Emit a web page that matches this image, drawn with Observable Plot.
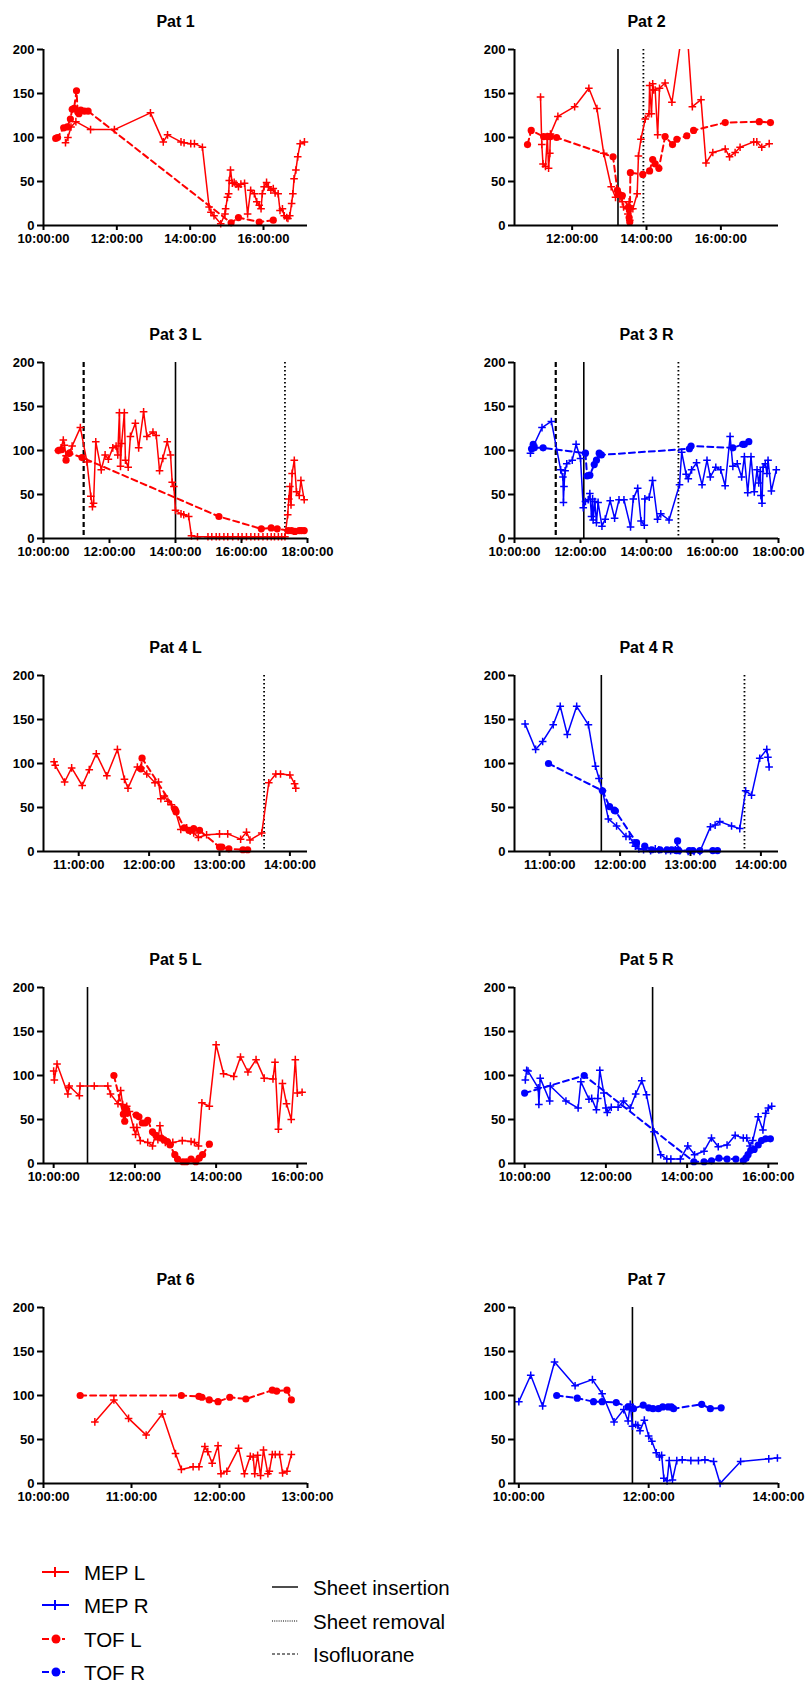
<!DOCTYPE html>
<html><head><meta charset="utf-8">
<script src="https://cdn.jsdelivr.net/npm/d3@7"></script>
<script src="https://cdn.jsdelivr.net/npm/@observablehq/plot@0.6"></script>
<style>
body{margin:0;background:#fff;}
#root{position:relative;width:806px;height:1681px;overflow:hidden;font-family:"Liberation Sans",Arial,sans-serif;}
#root > svg, #root > figure{position:absolute;margin:0;}
</style></head><body><div id="root"></div>
<script>
// ---------- DATA ----------
const titles = ["Pat 1","Pat 2","Pat 3 L","Pat 3 R","Pat 4 L","Pat 4 R","Pat 5 L","Pat 5 R","Pat 6","Pat 7"];
const sides = ["L","L","L","R","L","R","L","R","L","R"];
const xDomains = [["10:00","17:12"],["10:27","17:33"],["10:00","18:00"],["10:00","18:00"],["10:30","14:15"],["10:30","14:15"],["09:45","16:15"],["09:45","16:15"],["10:00","13:00"],["09:56","14:00"]];
const xTickLabels = [
  ["10:00","12:00","14:00","16:00"],["12:00","14:00","16:00"],
  ["10:00","12:00","14:00","16:00","18:00"],["10:00","12:00","14:00","16:00","18:00"],
  ["11:00","12:00","13:00","14:00"],["11:00","12:00","13:00","14:00"],
  ["10:00","12:00","14:00","16:00"],["10:00","12:00","14:00","16:00"],
  ["10:00","11:00","12:00","13:00"],["10:00","12:00","14:00"]];
const yTicks = [0,50,100,150,200];
const sheetInsertion = [null,"13:14","14:00","12:06",null,"11:44","10:50","13:09",null,"11:45"];
const sheetRemoval = [null,"13:55","17:19","14:58","13:38","13:46",null,null,null,null];
const isofluorane = [null,null,"11:13","11:15",null,null,null,null,null,null];

const p1Mep = [["10:36",94],["10:40",100],["10:45",112],["10:53",118],["11:17",109],["11:56",109],["12:55",128],["13:16",95],["13:23",103],["13:45",95],["13:50",94],["14:01",93],["14:07",93],["14:20",89],["14:31",21],["14:34",15],["14:39",11],["14:50",2],["14:57",13],["14:58",19],["15:01",32],["15:03",36],["15:04",51],["15:06",63],["15:09",48],["15:12",49],["15:15",47],["15:19",44],["15:23",47],["15:29",48],["15:34",13],["15:39",40],["15:45",36],["15:49",27],["15:53",23],["15:56",19],["15:58",36],["16:01",44],["16:05",49],["16:08",44],["16:12",40],["16:16",42],["16:19",37],["16:24",36],["16:27",17],["16:31",19],["16:34",11],["16:38",9],["16:40",8],["16:43",11],["16:46",25],["16:48",36],["16:50",53],["16:53",63],["16:56",78],["17:00",93],["17:07",95]];
const p1Tof = [["10:20",99],["10:23",100],["10:33",111],["10:39",112],["10:44",121],["10:47",132],["10:50",133],["10:54",153],["10:56",129],["10:58",127],["11:01",131],["11:07",130],["11:13",130],["15:07",3],["15:19",9],["15:53",4],["16:16",6]];

const p2Mep = [["11:09",146],["11:11",92],["11:13",70],["11:17",67],["11:20",101],["11:22",65],["11:24",82],["11:25",104],["11:37",124],["12:04",135],["12:27",156],["12:40",133],["12:51",82],["13:03",44],["13:10",32],["13:17",32],["13:21",27],["13:23",21],["13:28",19],["13:30",13],["13:32",27],["13:33",6],["13:35",19],["13:38",19],["13:45",36],["13:47",79],["13:51",98],["13:58",121],["14:04",127],["14:05",159],["14:08",127],["14:10",161],["14:11",154],["14:14",154],["14:18",103],["14:21",156],["14:30",162],["14:41",140],["15:03",247],["15:14",135],["15:28",143],["15:36",71],["15:47",83],["16:07",87],["16:14",78],["16:23",83],["16:31",89],["16:53",95],["16:58",95],["17:06",89],["17:18",93]];
const p2Tof = [["10:48",92],["10:54",108],["11:14",101],["11:20",101],["11:25",101],["11:35",100],["13:06",78],["13:13",40],["13:15",36],["13:21",34],["13:31",21],["13:32",9],["13:33",4],["13:34",60],["13:54",58],["14:05",62],["14:10",75],["14:14",70],["14:20",65],["14:30",101],["14:42",92],["14:49",98],["15:05",102],["15:16",108],["16:07",117],["17:02",118],["17:20",117]];

const p3LMep = [["10:27",100],["10:32",103],["10:36",112],["10:38",106],["10:41",94],["10:47",97],["10:52",105],["11:07",126],["11:19",87],["11:26",48],["11:29",36],["11:31",40],["11:35",110],["11:45",78],["11:52",95],["11:58",90],["12:06",103],["12:12",105],["12:15",95],["12:18",143],["12:20",82],["12:22",108],["12:27",143],["12:29",89],["12:34",81],["12:38",116],["12:47",131],["12:53",103],["13:02",144],["13:08",116],["13:19",121],["13:25",117],["13:31",77],["13:37",91],["13:45",110],["13:51",95],["13:54",64],["13:57",59],["14:00",32],["14:10",28],["14:15",27],["14:24",25],["14:29",3],["14:40",2],["14:59",2],["15:06",2],["15:14",2],["15:20",2],["15:28",2],["15:35",2],["15:44",2],["15:54",2],["16:01",2],["16:09",2],["16:17",2],["16:24",2],["16:31",2],["16:39",2],["16:47",2],["16:54",2],["17:00",2],["17:07",2],["17:13",2],["17:19",2],["17:24",27],["17:26",45],["17:28",59],["17:30",38],["17:32",74],["17:36",89],["17:40",53],["17:45",49],["17:48",66],["17:54",44]];
const p3LTof = [["10:27",100],["10:33",101],["10:41",89],["10:47",97],["11:10",92],["15:19",25],["16:36",11],["16:54",12],["17:05",11],["17:25",9],["17:31",9],["17:37",8],["17:45",9],["17:49",9],["17:54",9]];

const p3RMep = [["10:29",97],["10:32",102],["10:35",106],["10:50",126],["11:07",133],["11:24",78],["11:28",70],["11:29",41],["11:30",59],["11:32",77],["11:35",85],["11:45",89],["11:52",107],["12:00",91],["12:05",35],["12:09",42],["12:14",44],["12:17",51],["12:20",25],["12:22",45],["12:23",21],["12:26",42],["12:29",18],["12:32",41],["12:39",14],["12:45",22],["12:54",43],["13:02",23],["13:10",44],["13:19",44],["13:31",13],["13:36",45],["13:44",57],["13:50",20],["13:56",15],["13:57",45],["14:05",47],["14:11",66],["14:20",22],["14:26",28],["14:41",21],["15:00",61],["15:04",98],["15:12",73],["15:16",68],["15:22",78],["15:31",86],["15:41",61],["15:50",89],["15:56",70],["16:06",81],["16:15",78],["16:23",60],["16:32",116],["16:37",82],["16:45",85],["16:53",70],["16:58",93],["17:04",52],["17:10",93],["17:16",53],["17:21",78],["17:24",63],["17:27",76],["17:28",49],["17:30",40],["17:32",81],["17:36",85],["17:39",74],["17:41",89],["17:47",54],["17:56",78]];
const p3RTof = [["10:31",102],["10:34",107],["10:36",103],["10:52",103],["12:09",97],["12:12",71],["12:17",72],["12:25",84],["12:29",89],["12:34",97],["12:38",95],["15:18",102],["15:21",105],["16:37",103],["16:55",107],["16:58",107],["17:06",110]];

const p4LMep = [["10:39",102],["10:40",98],["10:48",79],["10:54",95],["11:03",75],["11:09",93],["11:15",111],["11:24",86],["11:33",116],["11:39",82],["11:42",72],["11:50",96],["11:53",95],["11:58",88],["12:05",78],["12:08",79],["12:10",60],["12:13",63],["12:16",57],["12:19",53],["12:22",48],["12:27",25],["12:32",27],["12:35",23],["12:38",21],["12:42",16],["12:49",19],["13:00",20],["13:07",20],["13:18",14],["13:23",22],["13:26",13],["13:36",21],["13:42",78],["13:48",88],["13:52",88],["14:00",87],["14:04",77],["14:05",72]];
const p4LTof = [["11:53",94],["11:54",106],["12:22",48],["12:23",45],["12:30",27],["12:34",24],["12:38",26],["12:43",24],["13:00",5],["13:02",5],["13:08",3],["13:20",2],["13:24",2]];

const p4RMep = [["10:39",145],["10:48",116],["10:54",125],["11:03",144],["11:09",165],["11:15",133],["11:23",165],["11:33",144],["11:39",97],["11:42",83],["11:45",69],["11:50",37],["11:57",29],["12:05",17],["12:08",17],["12:11",10],["12:13",6],["12:16",3],["12:20",2],["12:26",1],["12:30",3],["12:33",2],["12:39",1],["12:43",1],["12:47",2],["12:51",1],["12:58",0],["13:03",0],["13:08",0],["13:17",28],["13:21",30],["13:25",34],["13:35",29],["13:42",26],["13:47",69],["13:52",64],["13:59",106],["14:05",116],["14:06",107],["14:07",96]];
const p4RTof = [["10:59",100],["11:45",69],["11:51",51],["11:55",47],["11:56",46],["12:14",10],["12:21",6],["12:27",2],["12:34",2],["12:40",2],["12:44",2],["12:48",1],["12:49",12],["12:50",1],["12:59",1],["13:02",1],["13:08",1],["13:19",1],["13:23",1]];

const p5LMep = [["10:00",105],["10:01",95],["10:05",113],["10:21",79],["10:22",86],["10:23",88],["10:38",77],["10:39",88],["11:00",88],["11:20",88],["11:24",79],["11:35",68],["11:39",83],["11:42",67],["11:48",65],["11:52",59],["11:58",41],["12:01",33],["12:03",41],["12:08",26],["12:19",24],["12:26",20],["12:30",32],["12:34",27],["12:37",43],["12:41",27],["12:45",24],["12:52",22],["12:56",24],["13:10",26],["13:23",25],["13:28",24],["13:34",20],["13:39",69],["13:50",65],["14:00",135],["14:11",102],["14:26",99],["14:36",121],["14:47",104],["14:59",118],["15:11",97],["15:24",96],["15:27",115],["15:32",39],["15:38",91],["15:44",68],["15:51",50],["15:57",118],["16:00",80],["16:07",81]];
const p5LTof = [["11:29",100],["11:43",56],["11:45",48],["11:47",62],["11:49",57],["12:02",55],["12:06",53],["12:11",46],["12:15",46],["12:19",49],["12:26",36],["12:31",32],["12:39",29],["12:43",27],["12:48",25],["12:52",21],["12:59",10],["13:03",5],["13:11",2],["13:16",2],["13:23",5],["13:30",2],["13:35",6],["13:40",10],["13:50",22]];

const p5RMep = [["10:01",95],["10:03",106],["10:05",105],["10:20",86],["10:21",67],["10:23",97],["10:37",71],["10:38",88],["11:01",71],["11:19",63],["11:23",93],["11:35",73],["11:39",74],["11:46",61],["11:48",74],["11:51",106],["11:57",80],["12:00",63],["12:02",58],["12:08",64],["12:18",64],["12:26",71],["12:36",63],["12:44",79],["12:53",94],["13:00",78],["13:11",36],["13:21",10],["13:30",5],["13:36",5],["13:50",5],["14:01",20],["14:11",10],["14:25",14],["14:36",29],["14:46",19],["14:59",21],["15:11",32],["15:23",29],["15:28",29],["15:33",20],["15:37",26],["15:45",53],["15:52",38],["15:56",57],["16:00",63],["16:05",65]];
const p5RTof = [["10:00",80],["11:28",100],["14:10",2],["14:25",2],["14:36",3],["14:47",6],["14:59",5],["15:12",5],["15:23",3],["15:27",6],["15:30",10],["15:34",15],["15:39",16],["15:45",21],["15:50",26],["15:56",28],["16:03",28]];

const p6Mep = [["10:35",70],["10:48",95],["10:58",74],["11:10",55],["11:21",79],["11:30",34],["11:34",16],["11:42",19],["11:46",19],["11:50",42],["11:52",36],["11:55",23],["11:59",43],["12:01",11],["12:05",14],["12:13",40],["12:17",11],["12:21",31],["12:23",30],["12:24",11],["12:26",32],["12:28",9],["12:30",38],["12:33",11],["12:34",14],["12:36",33],["12:38",33],["12:41",33],["12:43",12],["12:46",14],["12:49",33]];
const p6Tof = [["10:25",100],["11:34",100],["11:46",99],["11:48",98],["11:53",95],["11:59",93],["12:07",98],["12:18",96],["12:36",106],["12:39",105],["12:46",106],["12:49",95]];

const p7Mep = [["10:00",93],["10:11",123],["10:22",88],["10:33",138],["10:52",111],["11:08",118],["11:17",102],["11:28",70],["11:37",84],["11:41",71],["11:43",90],["11:45",65],["11:48",67],["11:50",66],["11:52",60],["11:56",72],["12:00",54],["12:03",48],["12:07",35],["12:10",30],["12:12",32],["12:14",6],["12:17",3],["12:19",26],["12:22",4],["12:26",26],["12:31",27],["12:39",26],["12:46",26],["12:52",27],["13:00",25],["13:06",0],["13:25",25],["13:51",28],["13:59",29]];
const p7Tof = [["10:35",100],["10:54",97],["11:09",93],["11:17",93],["11:30",92],["11:41",87],["11:46",85],["11:55",89],["12:00",86],["12:04",85],["12:09",85],["12:13",87],["12:18",87],["12:21",87],["12:23",85],["12:49",90],["12:57",85],["13:07",86]];

const mepSeries = [p1Mep,p2Mep,p3LMep,p3RMep,p4LMep,p4RMep,p5LMep,p5RMep,p6Mep,p7Mep];
const tofSeries = [p1Tof,p2Tof,p3LTof,p3RTof,p4LTof,p4RTof,p5LTof,p5RTof,p6Tof,p7Tof];

const legendSeries = ["MEP L","MEP R","TOF L","TOF R"];
const legendEvents = ["Sheet insertion","Sheet removal","Isofluorane"];

// ---------- RENDER ----------
const sideColor = {L: "#ff0000", R: "#0000ff"};
const T = s => { const [h, m] = s.split(":").map(Number); return new Date(Date.UTC(2000, 0, 1, h, m)); };
const fmt = d3.utcFormat("%H:%M:%S");
const plusSym = { draw(ctx, size) { const r = Math.sqrt(size / Math.PI); ctx.moveTo(-r, 0); ctx.lineTo(r, 0); ctx.moveTo(0, -r); ctx.lineTo(0, r); } };

const root = document.getElementById("root");
const rowTops = [49, 362, 675, 987, 1307];
const plotH = 176, mTop = 49, mBottom = 42;
const font = '"Liberation Sans", Arial, sans-serif';

titles.forEach((title, i) => {
  const col = i % 2, row = Math.floor(i / 2);
  const color = sideColor[sides[i]];
  const mep = mepSeries[i].map(([t, v]) => ({t: T(t), v}));
  const tof = tofSeries[i].map(([t, v]) => ({t: T(t), v}));
  const dom = xDomains[i].map(T);
  const marks = [];
  if (isofluorane[i]) marks.push(Plot.ruleX([T(isofluorane[i])], {stroke: "#000", strokeWidth: 2.2, strokeDasharray: "5,3"}));
  if (sheetInsertion[i]) marks.push(Plot.ruleX([T(sheetInsertion[i])], {stroke: "#000", strokeWidth: 1.6}));
  if (sheetRemoval[i]) marks.push(Plot.ruleX([T(sheetRemoval[i])], {stroke: "#000", strokeWidth: 1.8, strokeDasharray: "1.4,2.6"}));
  marks.push(
    Plot.line(tof, {x: "t", y: "v", stroke: color, strokeWidth: 2, strokeDasharray: "6,4", clip: true}),
    Plot.line(mep, {x: "t", y: "v", stroke: color, strokeWidth: 1.5, clip: true}),
    Plot.dot(mep, {x: "t", y: "v", filter: d => d.v <= 200, symbol: plusSym, r: 3.8, fill: "none", stroke: color, strokeWidth: 1.5}),
    Plot.dot(tof, {x: "t", y: "v", r: 3.6, fill: color, stroke: "none"}),
    Plot.axisY({ticks: yTicks, tickSize: 6, tickPadding: 3, strokeWidth: 2, label: null, fontWeight: "bold"}),
    Plot.axisX({ticks: xTickLabels[i].map(T), tickFormat: fmt, tickSize: 5, tickPadding: 3, strokeWidth: 2, label: null, fontWeight: "bold"}),
    Plot.ruleX([dom[0]], {stroke: "#000", strokeWidth: 2}),
    Plot.ruleY([0], {stroke: "#000", strokeWidth: 2}),
    Plot.text([title], {text: d => d, frameAnchor: "top", lineAnchor: "middle", dy: -28, fontSize: 16, fontWeight: "bold", fill: "#000"})
  );
  const svg = Plot.plot({
    width: 403,
    height: mTop + plotH + mBottom,
    marginTop: mTop, marginBottom: mBottom,
    marginLeft: col === 0 ? 43 : 111,
    marginRight: col === 0 ? 96 : 28,
    x: {type: "utc", domain: dom},
    y: {domain: [0, 200]},
    style: {fontFamily: font, fontSize: "13px", color: "#000", background: "transparent", overflow: "visible"},
    marks
  });
  svg.style.left = (col * 403) + "px";
  svg.style.top = (rowTops[row] - mTop) + "px";
  root.appendChild(svg);
});

// Legend
const lg = d3.create("svg").attr("width", 806).attr("height", 131)
  .style("position", "absolute").style("left", "0px").style("top", "1550px")
  .style("font-family", font);
const seriesStyles = [
  {c: "#ff0000", tof: false}, {c: "#0000ff", tof: false},
  {c: "#ff0000", tof: true}, {c: "#0000ff", tof: true}];
const lyL = [22, 55, 89, 122];
legendSeries.forEach((name, k) => {
  const g = lg.append("g").attr("transform", `translate(0,${lyL[k]})`);
  const s = seriesStyles[k];
  if (!s.tof) {
    g.append("line").attr("x1", 42).attr("x2", 69).attr("stroke", s.c).attr("stroke-width", 2);
    g.append("path").attr("d", "M55,-5V5").attr("stroke", s.c).attr("stroke-width", 2);
  } else {
    g.append("line").attr("x1", 42).attr("x2", 69).attr("stroke", s.c).attr("stroke-width", 2.2).attr("stroke-dasharray", "7,13,3");
    g.append("circle").attr("cx", 56).attr("r", 4.5).attr("fill", s.c);
  }
  g.append("text").attr("x", 84).attr("y", 7.5).attr("font-size", 20.5).attr("fill", "#000").text(name);
});
const lyR = [37, 71, 104];
const evDash = [null, "1,1.2", "3,2"];
legendEvents.forEach((name, k) => {
  const g = lg.append("g").attr("transform", `translate(0,${lyR[k]})`);
  const ln = g.append("line").attr("x1", 272).attr("x2", 298).attr("stroke", "#000").attr("stroke-width", k === 0 ? 1.4 : 1.1);
  if (evDash[k]) ln.attr("stroke-dasharray", evDash[k]);
  g.append("text").attr("x", 313).attr("y", 7.5).attr("font-size", 20.5).attr("fill", "#000").text(name);
});
root.appendChild(lg.node());
</script></body></html>
